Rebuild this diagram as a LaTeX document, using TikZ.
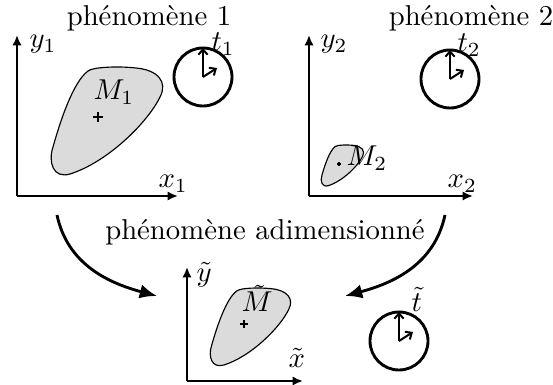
\documentclass[tikz,border=0pt]{standalone}
\usepackage{tikz}
\usetikzlibrary{arrows.meta}

\begin{document}
\begin{tikzpicture}[x=0.348pt,y=0.348pt,
  axis/.style={line width=0.7pt,-{Latex[length=3.6pt,width=3.2pt]}},
  lab/.style={inner sep=0pt,anchor=base west},
  title/.style={inner sep=0pt,anchor=base},
  bendarrow/.style={line width=1pt,-{Latex[length=6pt,width=5pt]}},
  hand/.style={line width=0.7pt,-{Straight Barb[length=1.8pt,width=3.2pt]}},
  blob/.pic={
    \draw[line width=0.4pt,fill=black!14] (-10,46)
      .. controls (-5,50) and (20,51) .. (38,49)
      .. controls (60,47) and (70,35) .. (62,20)
      .. controls (50,-5) and (10,-45) .. (-28,-57)
      .. controls (-45,-62) and (-50,-45) .. (-45,-30)
      .. controls (-38,-5) and (-25,35) .. (-10,46) -- cycle;
    \draw[line width=0.5pt] (-5,0) -- (5,0) (0,-5) -- (0,5);
  },
  clock/.pic={
    \draw[line width=1pt] (0,0) circle (29);
    \draw[hand] (0,0) -- (0,29);
    \draw[hand] (0,0) -- (14,9);
  },
]
\useasboundingbox (0,0) rectangle (553,-385);

% phenomene 1
\node[title] (ph1) at (149,-26) {phénomène 1};
\coordinate (o1) at (17,-196);
\coordinate (y1top) at (17,-35);
\coordinate (x1end) at (178,-196);
\draw[axis] (o1) -- (y1top);
\draw[axis] (o1) -- (x1end);
\node[lab] (y1) at (29,-48) {$y_1$};
\node[lab] (x1) at (158,-188) {$x_1$};
\pic (m1blob) at (98,-117) {blob};
\node[lab] (m1) at (93,-100) {$M_1$};
\pic (clock1) at (203,-77) {clock};
\node[lab] (t1) at (211,-51) {$t_1$};

% phenomene 2
\node[title] (ph2) at (471,-26) {phénomène 2};
\coordinate (o2) at (309,-196);
\coordinate (y2top) at (309,-35);
\coordinate (x2end) at (473,-196);
\draw[axis] (o2) -- (y2top);
\draw[axis] (o2) -- (x2end);
\node[lab] (y2) at (320,-48) {$y_2$};
\node[lab] (x2) at (447,-188) {$x_2$};
\pic[scale=0.38] (m2blob) at (339,-164) {blob};
\node[lab] (m2) at (346,-166) {$M_2$};
\pic (clock2) at (450,-79) {clock};
\node[lab] (t2) at (457,-52) {$t_2$};

% phenomene adimensionne
\node[title] (phadim) at (265,-240) {phénomène adimensionné};
\coordinate (l0) at (57,-215);
\coordinate (l1) at (157,-296);
\coordinate (r0) at (445,-215);
\coordinate (r1) at (345,-296);
\draw[bendarrow] (l0) to[out=-78,in=165] (l1);
\draw[bendarrow] (r0) to[out=-102,in=15] (r1);
\coordinate (o3) at (187,-381);
\coordinate (y3top) at (187,-267);
\coordinate (x3end) at (303,-381);
\draw[axis] (o3) -- (y3top);
\draw[axis] (o3) -- (x3end);
\node[lab] (y3) at (196,-282) {$\tilde{y}$};
\node[lab] (x3) at (288,-368) {$\tilde{x}$};
\pic[scale=0.72] (m3blob) at (244,-324) {blob};
\node[lab] (m3) at (241,-312) {$\tilde{M}$};
\pic (clock3) at (399,-341) {clock};
\node[lab] (t3) at (411,-312) {$\tilde{t}$};
\end{tikzpicture}
\end{document}
